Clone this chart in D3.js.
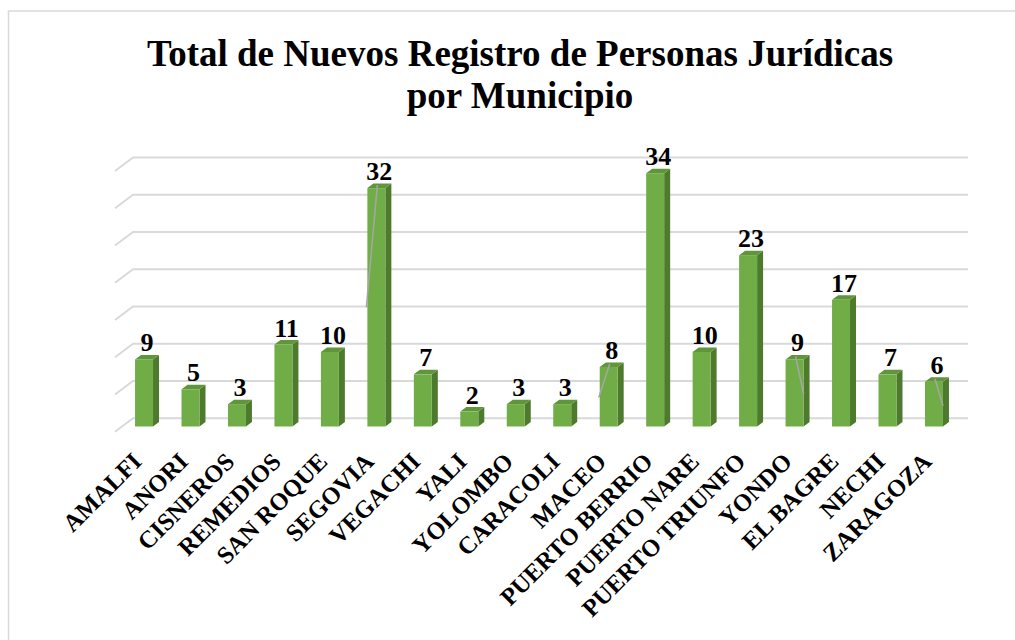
<!DOCTYPE html>
<html>
<head>
<meta charset="utf-8">
<script src="https://cdn.jsdelivr.net/npm/d3@7"></script>
<style>
  body { margin: 0; background: #fff; }
  svg { display: block; }
  text { font-family: "Liberation Serif", "Times New Roman", serif; font-weight: bold; fill: #000; }
</style>
</head>
<body>
<div id="chart"></div>
<script>
// ***** DATA *****
var municipios = ["AMALFI", "ANORI", "CISNEROS", "REMEDIOS", "SAN ROQUE", "SEGOVIA", "VEGACHI", "YALI",
    "YOLOMBO", "CARACOLI", "MACEO", "PUERTO BERRIO", "PUERTO NARE", "PUERTO TRIUNFO", "YONDO",
    "EL BAGRE", "NECHI", "ZARAGOZA"];
var registros = [9, 5, 3, 11, 10, 32, 7, 2, 3, 3, 8, 34, 10, 23, 9, 17, 7, 6];
var gridTicks = [0, 5, 10, 15, 20, 25, 30, 35];
var titleLines = ["Total de Nuevos Registro de Personas Jurídicas", "por Municipio"];

// label leader lines left by the spreadsheet (municipio, value where the line ends)
var leaderNames = ["SEGOVIA", "MACEO", "YONDO", "ZARAGOZA"];
var leaderEnds = [16, 3.9, 4.4, 2.8];

var width = 1015, height = 640;

var svg = d3.select("#chart")
    .append("svg")
    .attr("width", width)
    .attr("height", height);

// chart border (cut off on the right and bottom)
svg.append("rect")
    .attr("x", 8.5)
    .attr("y", 11)
    .attr("width", 1020)
    .attr("height", 640)
    .attr("fill", "#fff")
    .attr("stroke", "#d9d9d9")
    .attr("stroke-width", 1.5);

// title
svg.append("g")
    .selectAll("text")
    .data(titleLines)
    .enter()
    .append("text")
    .attr("x", 520)
    .attr("y", function(d, i) { return 66 + i * 42; })
    .attr("text-anchor", "middle")
    .style("font-size", "37px")
    .text(function(d) { return d; });

var x = d3.scaleBand()
    .domain(municipios)
    .range([120.8, 957.2])
    .paddingInner(0.613)
    .paddingOuter(0.3065);

var y = d3.scaleLinear()
    .domain([0, 35])
    .range([426.5, 165.75]);

var depthX = 6, depthY = -4.5;

// gridlines on the back wall with the slanted side wall segment
svg.append("g")
    .selectAll("path")
    .data(gridTicks)
    .enter()
    .append("path")
    .attr("d", function(t) {
        return "M115," + (y(t) + 5.2) + "L133," + (y(t) - 8.2) + "L968," + (y(t) - 8.2);
    })
    .attr("fill", "none")
    .attr("stroke", "#d9d9d9")
    .attr("stroke-width", 2);

var data = municipios.map(function(m, i) {
    return { name: m, value: registros[i] };
});

var bars = svg.append("g")
    .selectAll("g")
    .data(data)
    .enter()
    .append("g");

// side face
bars.append("path")
    .attr("d", function(d) {
        var x1 = x(d.name) + x.bandwidth();
        return "M" + x1 + "," + y(d.value) +
            "L" + (x1 + depthX) + "," + (y(d.value) + depthY) +
            "L" + (x1 + depthX) + "," + (y(0) + depthY) +
            "L" + x1 + "," + y(0) + "Z";
    })
    .attr("fill", "#4e7a2e");

// top face
bars.append("path")
    .attr("d", function(d) {
        var x0 = x(d.name), x1 = x0 + x.bandwidth();
        return "M" + x0 + "," + y(d.value) +
            "L" + (x0 + depthX) + "," + (y(d.value) + depthY) +
            "L" + (x1 + depthX) + "," + (y(d.value) + depthY) +
            "L" + x1 + "," + y(d.value) + "Z";
    })
    .attr("fill", "#5f963a");

// front face
bars.append("rect")
    .attr("x", function(d) { return x(d.name); })
    .attr("y", function(d) { return y(d.value); })
    .attr("width", x.bandwidth())
    .attr("height", function(d) { return y(0) - y(d.value); })
    .attr("fill", "#70ad47");

// leader lines
svg.append("g")
    .selectAll("line")
    .data(leaderNames)
    .enter()
    .append("line")
    .attr("x1", function(m, i) { return x(m) + x.bandwidth() / 2 + 1; })
    .attr("y1", function(m) { return y(registros[municipios.indexOf(m)]) - 3; })
    .attr("x2", function(m, i) { return x(m) + x.bandwidth() / 2 + (i < 2 ? -10 : 9); })
    .attr("y2", function(m, i) { return y(leaderEnds[i]); })
    .attr("stroke", "#a6a6a6")
    .attr("stroke-width", 1.5);

// value labels
svg.append("g")
    .selectAll("text")
    .data(data)
    .enter()
    .append("text")
    .attr("x", function(d) { return x(d.name) + x.bandwidth() / 2 + 3; })
    .attr("y", function(d) { return y(d.value) - 8; })
    .attr("text-anchor", "middle")
    .style("font-size", "26px")
    .text(function(d) { return d.value; });

// category labels, rotated
svg.append("g")
    .selectAll("text")
    .data(municipios)
    .enter()
    .append("text")
    .attr("text-anchor", "end")
    .attr("transform", function(m) {
        return "translate(" + (x(m) + x.bandwidth() / 2 - 1) + ",463) rotate(-45)";
    })
    .style("font-size", "24.5px")
    .text(function(m) { return m; });
</script>
</body>
</html>
